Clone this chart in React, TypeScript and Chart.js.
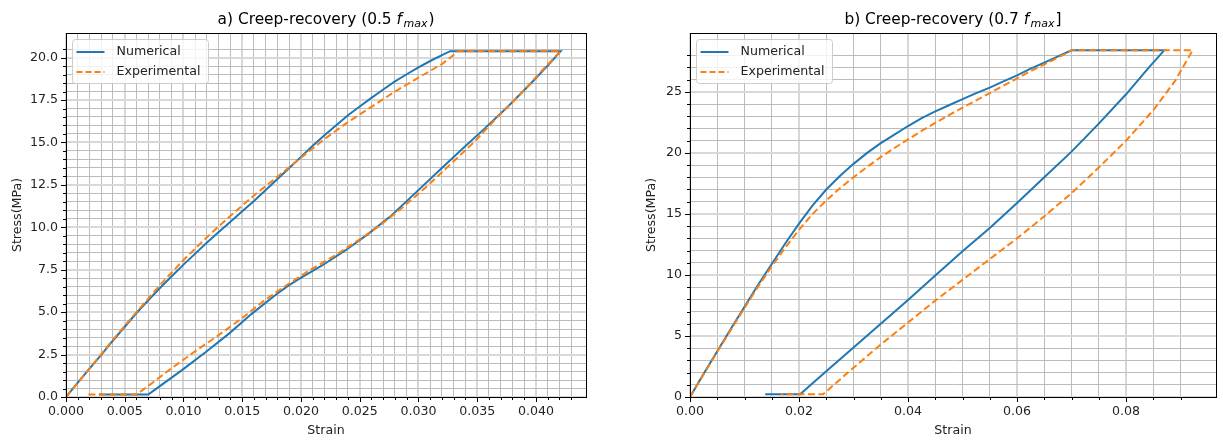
import React, { useEffect, useRef } from 'react';
import { Chart, registerables } from 'chart.js';
Chart.register(...registerables);

const FONT = '"DejaVu Sans", sans-serif';
const BLUE = '#1f77b4';
const ORANGE = '#ff7f0e';
const TXT = 12.6;

// ---------- Panel a) Creep-recovery (0.5 f_max) ----------
const aNumStrain = [0, 0.001, 0.002, 0.003, 0.004, 0.005, 0.006, 0.007, 0.008, 0.009, 0.010, 0.011, 0.012, 0.013, 0.014, 0.015, 0.016, 0.017, 0.018, 0.019, 0.020, 0.021, 0.022, 0.023, 0.024, 0.025, 0.026, 0.027, 0.028, 0.029, 0.030, 0.031, 0.032, 0.0327, 0.0421, 0.0411, 0.0396, 0.0376, 0.0356, 0.0337, 0.0317, 0.0297, 0.0277, 0.0257, 0.0238, 0.0218, 0.0198, 0.0188, 0.0178, 0.0158, 0.0139, 0.0119, 0.0099, 0.0079, 0.0070, 0.0028];
const aNumStress = [0, 0.85, 1.67, 2.48, 3.33, 4.14, 4.95, 5.7, 6.42, 7.12, 7.8, 8.45, 9.1, 9.72, 10.33, 10.94, 11.55, 12.2, 12.85, 13.5, 14.15, 14.8, 15.42, 16.02, 16.6, 17.12, 17.63, 18.12, 18.6, 19.02, 19.42, 19.8, 20.15, 20.38, 20.38, 19.6, 18.5, 17.1, 15.8, 14.6, 13.3, 12.0, 10.7, 9.6, 8.65, 7.75, 6.95, 6.5, 6.0, 4.9, 3.75, 2.65, 1.6, 0.6, 0.15, 0.15];
const aExpStrain = [0, 0.002, 0.004, 0.006, 0.008, 0.010, 0.012, 0.014, 0.016, 0.018, 0.020, 0.022, 0.024, 0.026, 0.028, 0.030, 0.032, 0.0334, 0.0421, 0.0406, 0.0386, 0.0366, 0.0347, 0.0327, 0.0307, 0.0287, 0.0267, 0.0248, 0.0228, 0.0208, 0.0188, 0.0168, 0.0149, 0.0129, 0.0109, 0.0089, 0.0069, 0.0060, 0.0018];
const aExpStress = [0, 1.67, 3.38, 5.0, 6.6, 8.07, 9.42, 10.68, 11.88, 12.98, 14.1, 15.2, 16.2, 17.1, 18.0, 18.82, 19.62, 20.38, 20.38, 19.3, 17.8, 16.4, 15.0, 13.7, 12.4, 11.2, 10.1, 9.2, 8.3, 7.5, 6.6, 5.65, 4.6, 3.6, 2.65, 1.65, 0.6, 0.15, 0.15];

// ---------- Panel b) Creep-recovery (0.7 f_max] ----------
const bNumStrain = [0, 0.0025, 0.005, 0.0075, 0.010, 0.0125, 0.015, 0.0175, 0.020, 0.0225, 0.025, 0.0275, 0.030, 0.0325, 0.035, 0.0375, 0.040, 0.0425, 0.045, 0.0475, 0.050, 0.0525, 0.055, 0.0575, 0.060, 0.0625, 0.065, 0.0675, 0.070, 0.087, 0.084, 0.080, 0.075, 0.070, 0.065, 0.060, 0.055, 0.050, 0.045, 0.040, 0.035, 0.030, 0.025, 0.0202, 0.0138];
const bNumStress = [0, 1.9, 3.75, 5.6, 7.4, 9.2, 10.9, 12.6, 14.2, 15.7, 17.0, 18.1, 19.1, 20.0, 20.8, 21.5, 22.2, 22.85, 23.4, 23.9, 24.4, 24.9, 25.35, 25.85, 26.35, 26.9, 27.4, 27.9, 28.4, 28.4, 26.9, 24.8, 22.4, 20.1, 18.0, 15.9, 13.85, 11.95, 9.95, 7.95, 6.0, 4.05, 2.1, 0.22, 0.22];
const bExpStrain = [0, 0.0025, 0.005, 0.0075, 0.010, 0.0125, 0.015, 0.0175, 0.020, 0.0225, 0.025, 0.0275, 0.030, 0.0325, 0.035, 0.0375, 0.040, 0.0425, 0.045, 0.0475, 0.050, 0.0525, 0.055, 0.0575, 0.060, 0.0625, 0.065, 0.0675, 0.070, 0.0922, 0.089, 0.085, 0.080, 0.075, 0.070, 0.065, 0.060, 0.055, 0.050, 0.045, 0.040, 0.035, 0.030, 0.0244, 0.0167];
const bExpStress = [0, 1.85, 3.7, 5.5, 7.3, 9.05, 10.7, 12.25, 13.7, 15.0, 16.1, 17.1, 18.0, 18.85, 19.65, 20.4, 21.1, 21.8, 22.45, 23.1, 23.7, 24.3, 24.9, 25.5, 26.1, 26.7, 27.25, 27.8, 28.4, 28.4, 25.9, 23.5, 21.0, 18.8, 16.7, 14.8, 13.0, 11.3, 9.6, 7.9, 6.1, 4.3, 2.4, 0.22, 0.22];

const seriesLabels = ['Numerical', 'Experimental'];
const xTitle = 'Strain';
const yTitle = 'Stress(MPa)';

type Panel = {
  numX: number[]; numY: number[]; expX: number[]; expY: number[];
  xMax: number; yMax: number;
  xMinor: number; xMajor: number; yMinor: number; yMajor: number;
  xDec: number; yDec: number;
  titleA: string; titleB: string;
  width: number; left: number; yAxisW: number; padRight: number;
};

const panels: Panel[] = [
  {
    numX: aNumStrain, numY: aNumStress, expX: aExpStrain, expY: aExpStress,
    xMax: 0.04426, yMax: 21.45, xMinor: 0.001, xMajor: 0.005, yMinor: 0.5, yMajor: 2.5,
    xDec: 3, yDec: 1, titleA: 'a) Creep-recovery (0.5 ', titleB: ')',
    width: 600, left: 0, yAxisW: 66, padRight: 14,
  },
  {
    numX: bNumStrain, numY: bNumStress, expX: bExpStrain, expY: bExpStress,
    xMax: 0.0965, yMax: 29.82, xMinor: 0.005, xMajor: 0.02, yMinor: 1, yMajor: 5,
    xDec: 2, yDec: 0, titleA: 'b) Creep-recovery (0.7 ', titleB: ']',
    width: 589, left: 634, yAxisW: 56, padRight: 5,
  },
];

const isMult = (v: number, step: number) => Math.abs(v / step - Math.round(v / step)) < 1e-6;
const toPts = (xs: number[], ys: number[]) => xs.map((x, i) => ({ x, y: ys[i] }));

function PanelChart({ p }: { p: Panel }) {
  const ref = useRef<HTMLCanvasElement>(null);
  useEffect(() => {
    if (!ref.current) return;
    const decor = {
      id: 'decor',
      afterDraw(chart: any) {
        const ctx = chart.ctx;
        const a = chart.chartArea;
        const xs = chart.scales.x;
        const ys = chart.scales.y;
        ctx.save();
        // frame
        ctx.strokeStyle = '#000';
        ctx.lineWidth = 1;
        ctx.strokeRect(Math.round(a.left) + 0.5, Math.round(a.top) + 0.5, Math.round(a.right - a.left), Math.round(a.bottom - a.top));
        // tick marks
        ctx.beginPath();
        xs.ticks.forEach((t: any) => {
          if (t.value > p.xMax - 1e-9) return;
          const px = Math.round(xs.getPixelForValue(t.value)) + 0.5;
          const len = isMult(t.value, p.xMajor) ? 5 : 3;
          ctx.moveTo(px, a.bottom);
          ctx.lineTo(px, a.bottom + len);
        });
        ys.ticks.forEach((t: any) => {
          if (t.value > p.yMax - 1e-9) return;
          const py = Math.round(ys.getPixelForValue(t.value)) + 0.5;
          const len = isMult(t.value, p.yMajor) ? 5 : 3;
          ctx.moveTo(a.left, py);
          ctx.lineTo(a.left - len, py);
        });
        ctx.stroke();
        // title with math-like f_max
        const fs = 15.4;
        const subFs = 11;
        ctx.fillStyle = '#000';
        ctx.textBaseline = 'alphabetic';
        ctx.font = `${fs}px ${FONT}`;
        const w1 = ctx.measureText(p.titleA).width;
        ctx.font = `italic ${fs}px ${FONT}`;
        const wf = ctx.measureText('f').width;
        ctx.font = `italic ${subFs}px ${FONT}`;
        const wm = ctx.measureText('max').width;
        ctx.font = `${fs}px ${FONT}`;
        const w2 = ctx.measureText(p.titleB).width;
        const total = w1 + wf + 1.5 + wm + 1 + w2;
        let x = (a.left + a.right) / 2 - total / 2;
        const base = 23.5;
        ctx.textAlign = 'left';
        ctx.font = `${fs}px ${FONT}`;
        ctx.fillText(p.titleA, x, base);
        x += w1;
        ctx.font = `italic ${fs}px ${FONT}`;
        ctx.fillText('f', x, base);
        x += wf + 1.5;
        ctx.font = `italic ${subFs}px ${FONT}`;
        ctx.fillText('max', x, base + 3);
        x += wm + 1;
        ctx.font = `${fs}px ${FONT}`;
        ctx.fillText(p.titleB, x, base);
        // legend box
        const bx = a.left + 6.5, by = a.top + 6.5, bw = 136, bh = 44;
        ctx.beginPath();
        ctx.roundRect(bx, by, bw, bh, 3);
        ctx.fillStyle = 'rgba(255,255,255,0.8)';
        ctx.fill();
        ctx.strokeStyle = '#cccccc';
        ctx.lineWidth = 1;
        ctx.stroke();
        const rows = [
          { label: seriesLabels[0], color: BLUE, dash: [] as number[] },
          { label: seriesLabels[1], color: ORANGE, dash: [6, 3] },
        ];
        rows.forEach((r, i) => {
          const yy = by + 12.5 + i * 20;
          ctx.beginPath();
          ctx.setLineDash(r.dash);
          ctx.strokeStyle = r.color;
          ctx.lineWidth = 2;
          ctx.moveTo(bx + 4, yy);
          ctx.lineTo(bx + 32, yy);
          ctx.stroke();
          ctx.setLineDash([]);
          ctx.fillStyle = '#222';
          ctx.font = `${TXT}px ${FONT}`;
          ctx.textBaseline = 'middle';
          ctx.fillText(r.label, bx + 44, yy);
        });
        ctx.restore();
      },
    };

    const gridColor = (step: number) => (c: any) =>
      c.tick && isMult(c.tick.value, step) ? '#d8d8d8' : '#bcbcbc';
    const gridWidth = (step: number) => (c: any) =>
      c.tick && isMult(c.tick.value, step) ? 2 : 1;

    const chart = new Chart(ref.current, {
      type: 'scatter',
      data: {
        datasets: [
          {
            label: seriesLabels[0],
            data: toPts(p.numX, p.numY),
            showLine: true,
            borderColor: BLUE,
            backgroundColor: BLUE,
            borderWidth: 2,
            pointRadius: 0,
            tension: 0,
            order: 2,
          },
          {
            label: seriesLabels[1],
            data: toPts(p.expX, p.expY),
            showLine: true,
            borderColor: ORANGE,
            backgroundColor: ORANGE,
            borderWidth: 2,
            borderDash: [7, 3.5],
            pointRadius: 0,
            tension: 0,
            order: 1,
          },
        ],
      },
      options: {
        responsive: false,
        animation: false,
        devicePixelRatio: 1,
        layout: { padding: { top: 33, left: 0, right: p.padRight, bottom: 0 } },
        plugins: { legend: { display: false }, title: { display: false }, tooltip: { enabled: false } },
        events: [],
        scales: {
          x: {
            type: 'linear',
            min: 0,
            max: p.xMax,
            afterFit: (s: any) => { s.height = 44; },
            ticks: {
              stepSize: p.xMinor,
              maxTicksLimit: 1000,
              autoSkip: false,
              maxRotation: 0,
              minRotation: 0,
              padding: 7,
              color: '#222',
              font: { family: FONT, size: TXT },
              callback: (v: any) => (isMult(Number(v), p.xMajor) && Number(v) < p.xMax - 1e-9 ? Number(v).toFixed(p.xDec) : ''),
            },
            grid: { color: gridColor(p.xMajor), lineWidth: gridWidth(p.xMajor), drawTicks: false },
            border: { display: true, color: '#000', width: 1 },
            title: { display: true, text: xTitle, color: '#222', font: { family: FONT, size: TXT }, padding: { top: 0, bottom: 3 } },
          },
          y: {
            type: 'linear',
            min: 0,
            max: p.yMax,
            afterFit: (s: any) => { s.width = p.yAxisW; },
            ticks: {
              stepSize: p.yMinor,
              maxTicksLimit: 1000,
              autoSkip: false,
              padding: 8,
              color: '#222',
              font: { family: FONT, size: TXT },
              callback: (v: any) => (isMult(Number(v), p.yMajor) && Number(v) < p.yMax - 1e-9 ? Number(v).toFixed(p.yDec) : ''),
            },
            grid: { color: gridColor(p.yMajor), lineWidth: gridWidth(p.yMajor), drawTicks: false },
            border: { display: true, color: '#000', width: 1 },
            title: { display: true, text: yTitle, color: '#222', font: { family: FONT, size: TXT }, padding: { top: 10, bottom: 0 } },
          },
        },
      },
      plugins: [decor],
    } as any);
    return () => chart.destroy();
  }, [p]);
  return (
    <canvas
      ref={ref}
      width={p.width}
      height={441}
      style={{ position: 'absolute', left: p.left, top: 0, width: p.width, height: 441, display: 'block' }}
    />
  );
}

export default function App() {
  useEffect(() => {
    document.body.style.margin = '0';
    document.body.style.background = '#fff';
  }, []);
  return (
    <div style={{ position: 'relative', width: 1223, height: 441, background: '#fff', overflow: 'hidden' }}>
      {panels.map((p, i) => (
        <PanelChart key={i} p={p} />
      ))}
    </div>
  );
}
